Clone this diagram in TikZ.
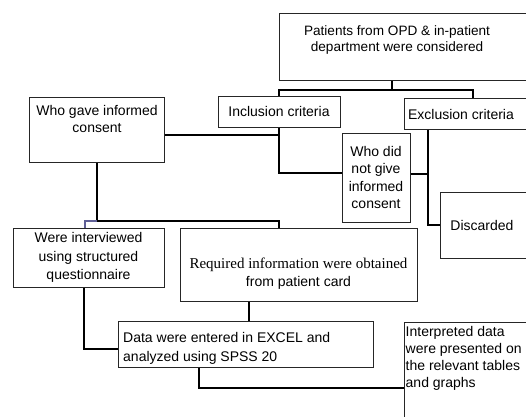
\documentclass[tikz,border=0pt]{standalone}
\usepackage{fontspec}
\setmainfont{Liberation Sans}
\newfontfamily\serifrm{Liberation Serif}
\begin{document}
\begin{tikzpicture}[x=1pt,y=-1pt,
  box/.style={draw=black!85,line width=1pt,inner sep=0pt,rectangle,fill=white},
  conn/.style={draw=black,line width=1.4pt},
  bconn/.style={draw={rgb,255:red,95;green,95;blue,150},line width=1.1pt},
  txt/.style={inner sep=0pt,align=center,font=\fontsize{14}{17}\selectfont}]
\useasboundingbox (0,0) rectangle (526,416);
\clip (0,0) rectangle (526,416);

% boxes
\node[box,minimum width=263,minimum height=67] (top) at (410.5,46.5) {};
\node[txt,font=\fontsize{13.6}{15.5}\selectfont] (toptxt) at (397,40) {Patients from OPD \& in-patient\\department were considered};

\node[box,txt,minimum width=122,minimum height=31] (incl) at (279,111.5) {Inclusion criteria};

\node[box,minimum width=138,minimum height=31] (excl) at (473,113.5) {};
\node[txt] (excltxt) at (461,114) {Exclusion criteria};

\node[box,minimum width=135,minimum height=65] (whogave) at (96.5,129.5) {};
\node[txt] (whogavetxt) at (97,119) {Who gave informed\\consent};

\node[box,txt,minimum width=68,minimum height=89,font=\fontsize{14}{17.5}\selectfont] (whodid) at (376,177.5) {Who did\\not give\\informed\\consent};

\node[box,minimum width=105,minimum height=66] (disc) at (492.5,225) {};
\node[txt] (disctxt) at (482,225) {Discarded};

\node[box,txt,minimum width=151,minimum height=59,font=\fontsize{14}{18.5}\selectfont] (interv) at (88.5,257.5) {Were interviewed\\using structured\\questionnaire};

\node[box,minimum width=237,minimum height=73] (req) at (298.5,264.5) {};
\node[txt,font=\fontsize{14}{18}\selectfont] (reqtxt) at (298.5,274) {{\serifrm\fontsize{15}{18}\selectfont Required information were obtained}\\from patient card};

\node[box,minimum width=255,minimum height=46] (data) at (245.5,344) {};
\node[txt,align=left,anchor=west,font=\fontsize{14}{19}\selectfont] (datatxt) at (123,348.5) {Data were entered in EXCEL and\\analyzed using SPSS 20};

\node[box,minimum width=141,minimum height=118] (interp) at (474.5,381) {};
\node[txt,align=left,anchor=north west,font=\fontsize{14}{17}\selectfont] (interptxt) at (405.5,326) {Interpreted data\\were presented on\\the relevant tables\\and graphs};

% connectors
\coordinate (j1) at (392,90);
\draw[conn] (top.south -| j1) -- (j1);
\draw[conn] (incl.north) |- (j1) -| (excl.north);

\coordinate (j2) at (279,135);
\draw[conn] (whogave.east |- j2) -- (j2);
\coordinate (j3) at (279,173);
\draw[conn] (incl.south) -- (j3) -- (whodid.west |- j3);

\coordinate (j4) at (428,174);
\draw[conn] (whodid.east |- j4) -- (j4);
\draw[conn] (excl.south -| j4) |- (disc.west);

\coordinate (j5) at (97,221);
\coordinate (j6) at (85,221);
\draw[conn] (whogave.south -| j5) -- (j5) -| (req.north -| j2);
\draw[bconn] (j5) -- (j6) -- (interv.north -| j6);

\coordinate (j7) at (249,310);
\draw[conn] (req.south -| j7) -- (data.north -| j7);

\coordinate (j8) at (84,349);
\draw[conn] (interv.south -| j8) -- (j8) -- (data.west |- j8);

\coordinate (j9) at (199,388);
\draw[conn] (data.south -| j9) -- (j9) -- (interp.west |- j9);
\end{tikzpicture}
\end{document}
